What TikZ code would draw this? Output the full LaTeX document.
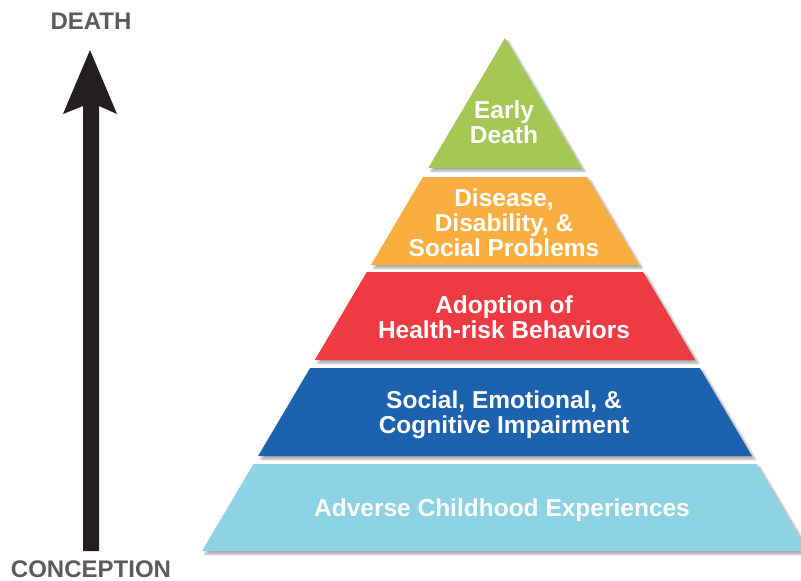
\documentclass[tikz,border=0pt]{standalone}
\usepackage{fontspec}
\setmainfont{Liberation Sans}
\usetikzlibrary{shadows.blur}
\definecolor{cgreen}{HTML}{A5C855}
\definecolor{corange}{HTML}{F9AE3F}
\definecolor{cred}{HTML}{EE3A43}
\definecolor{cblue}{HTML}{1C62AE}
\definecolor{clight}{HTML}{8DD3E3}
\definecolor{clabel}{HTML}{5A5B5D}
\definecolor{carrow}{HTML}{231F20}
\begin{document}
\begin{tikzpicture}[x=1pt,y=-1pt,
  layer/.style={blur shadow={shadow xshift=3pt,shadow yshift=-3pt,shadow blur steps=6,shadow opacity=35}},
  laytext/.style={text=white,font=\fontsize{24.5}{25}\selectfont\bfseries,align=center,inner sep=0pt},
  sidetext/.style={text=clabel,font=\fontsize{24}{26}\selectfont\bfseries,inner sep=0pt}]
\useasboundingbox (0,0) rectangle (801,581);
\clip (0,0) rectangle (801,581);
% arrow
\fill[carrow] (90,50) -- (117,114) -- (99,106) -- (99,551) -- (83,551) -- (83,106) -- (63,114) -- cycle;
\node[sidetext] (death) at (91,21) {DEATH};
\node[sidetext] (conception) at (91,569) {CONCEPTION};
% pyramid layers
\fill[cgreen,layer] (505,38) -- (581.8,168) -- (428.2,168) -- cycle;
\fill[corange,layer] (422.9,177) -- (587.1,177) -- (639.1,265) -- (370.9,265) -- cycle;
\fill[cred,layer] (366.8,272) -- (643.2,272) -- (695.2,360) -- (314.8,360) -- cycle;
\fill[cblue,layer] (310.1,368) -- (699.9,368) -- (751.9,456) -- (258.1,456) -- cycle;
\fill[clight,layer] (253.4,464) -- (756.6,464) -- (808,551) -- (202,551) -- cycle;
% labels
\node[laytext] (l1) at (504,122) {Early\\Death};
\node[laytext] (l2) at (504,222.5) {Disease,\\Disability, \&\\Social Problems};
\node[laytext] (l3) at (504,317) {Adoption of\\Health-risk Behaviors};
\node[laytext] (l4) at (504,415) {Social, Emotional, \&\\Cognitive Impairment};
\node[laytext] (l5) at (502,510) {Adverse Childhood Experiences};
\end{tikzpicture}
\end{document}
